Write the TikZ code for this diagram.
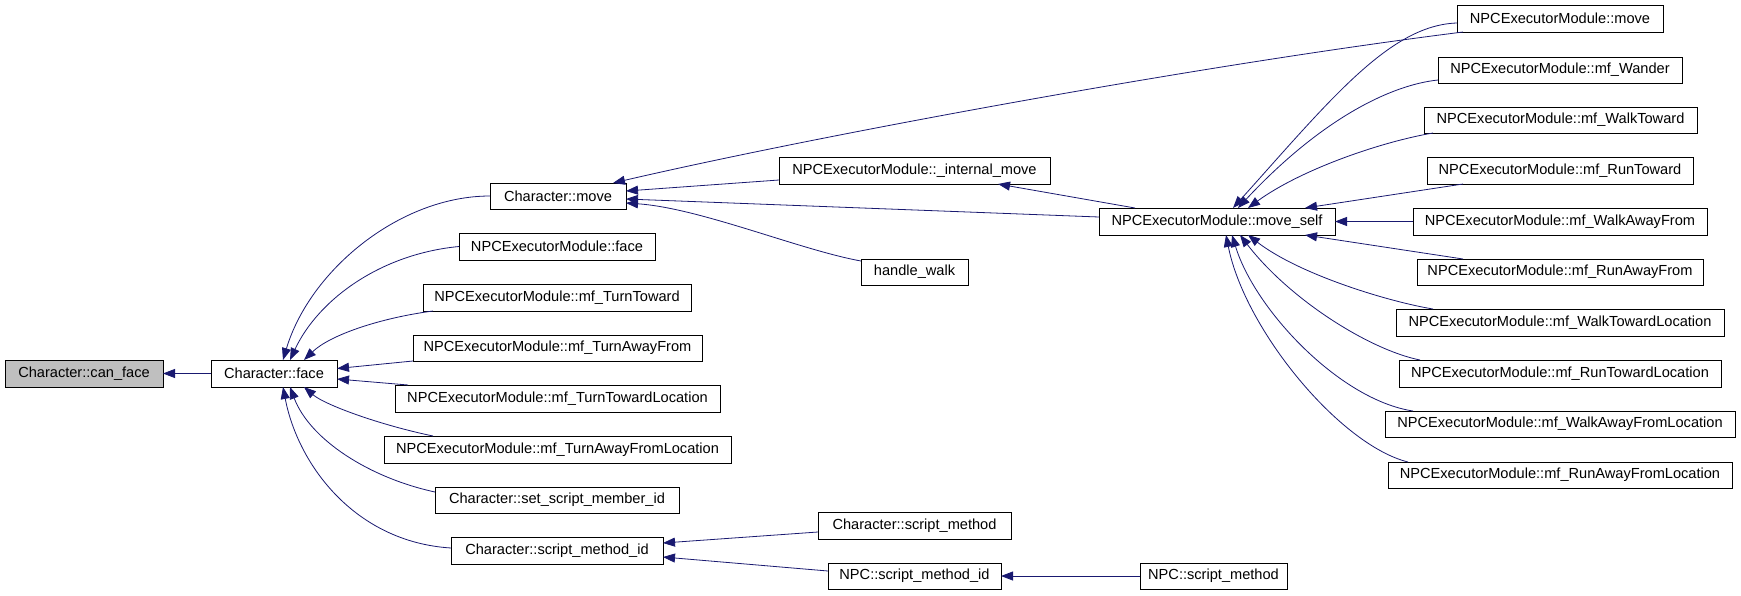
\documentclass[tikz,border=0pt]{standalone}
\usepackage{fontspec}
\setmainfont{Liberation Sans}
\usetikzlibrary{arrows.meta}
\definecolor{mb}{HTML}{191970}
\definecolor{gr}{HTML}{BFBFBF}
\newcommand\bx[7][]{\node[box,#1,minimum width={#5-#3},minimum height={#6-#4}] (#2) at ({(#3+#5)/2},{(#4+#6)/2}) {#7};}
\begin{document}
\begin{tikzpicture}[x=1pt,y=-1pt,
  box/.style={draw=black,line width=0.9pt,fill=white,inner sep=0pt,outer sep=0pt,font=\fontsize{14.6}{17}\selectfont},
  edge/.style={draw=mb,line width=0.8pt,-{Triangle[length=12pt,width=9pt]}}]
\useasboundingbox (0,0) rectangle (1741,595);
% nodes
\bx[fill=gr]{cf}{5}{360}{163}{387}{Character::can\_face}
\bx{face}{211}{360}{337}{387}{Character::face}
\bx{cmove}{490}{183}{626}{209}{Character::move}
\bx{nface}{459}{233}{655}{260}{NPCExecutorModule::face}
\bx{ttw}{423}{284}{691}{311}{NPCExecutorModule::mf\_TurnToward}
\bx{taf}{413}{335}{702}{361}{NPCExecutorModule::mf\_TurnAwayFrom}
\bx{ttl}{395}{385}{720}{412}{NPCExecutorModule::mf\_TurnTowardLocation}
\bx{tafl}{384}{436}{731}{463}{NPCExecutorModule::mf\_TurnAwayFromLocation}
\bx{ssm}{435}{487}{679}{513}{Character::set\_script\_member\_id}
\bx{smid}{451}{537}{663}{564}{Character::script\_method\_id}
\bx{imove}{779}{157}{1050}{184}{NPCExecutorModule::\_internal\_move}
\bx{hwalk}{861}{259}{968}{285}{handle\_walk}
\bx{mself}{1099}{208}{1335}{235}{NPCExecutorModule::move\_self}
\bx{nmove}{1457}{5}{1663}{32}{NPCExecutorModule::move}
\bx{wander}{1438}{57}{1682}{83}{NPCExecutorModule::mf\_Wander}
\bx{wtw}{1424}{107}{1697}{133}{NPCExecutorModule::mf\_WalkToward}
\bx{rtw}{1427}{157}{1693}{184}{NPCExecutorModule::mf\_RunToward}
\bx{waf}{1413}{208}{1707}{235}{NPCExecutorModule::mf\_WalkAwayFrom}
\bx{raf}{1417}{259}{1703}{285}{NPCExecutorModule::mf\_RunAwayFrom}
\bx{wtl}{1396}{309}{1724}{336}{NPCExecutorModule::mf\_WalkTowardLocation}
\bx{rtl}{1399}{360}{1721}{387}{NPCExecutorModule::mf\_RunTowardLocation}
\bx{wafl}{1385}{411}{1735}{437}{NPCExecutorModule::mf\_WalkAwayFromLocation}
\bx{rafl}{1388}{462}{1732}{488}{NPCExecutorModule::mf\_RunAwayFromLocation}
\bx{csm}{818}{512}{1011}{539}{Character::script\_method}
\bx{nsmid}{828}{563}{1001}{589}{NPC::script\_method\_id}
\bx{nsm}{1140}{563}{1287}{589}{NPC::script\_method}
% edges
\draw[edge] (face.west) -- (cf.east);
\draw[edge] (cmove.west) .. controls (400,196) and (310,270) .. ([xshift=9pt]face.north);
\draw[edge] (nface.west) .. controls (380,254) and (318,300) .. ([xshift=16pt]face.north);
\draw[edge] ([xshift=10pt]ttw.south west) .. controls (380,318) and (330,335) .. ([xshift=30pt]face.north);
\draw[edge] (taf.south west) -- ([yshift=5pt]face.east);
\draw[edge] ([xshift=13pt]ttl.north west) -- ([yshift=-5.5pt]face.east);
\draw[edge] ([xshift=49pt]tafl.north west) .. controls (380,425) and (325,405) .. ([xshift=30pt]face.south);
\draw[edge] ([yshift=8pt]ssm.west) .. controls (370,478) and (310,440) .. ([xshift=16pt]face.south);
\draw[edge] ([yshift=2.5pt]smid.west) .. controls (355,542) and (298,465) .. ([xshift=9pt]face.south);
\draw[edge] ([xshift=6pt]nmove.south west) .. controls (1200,65) and (820,135) .. ([xshift=-13pt]cmove.north east);
\draw[edge] ([yshift=-9.5pt]imove.west) -- ([yshift=5pt]cmove.east);
\draw[edge] ([yshift=4.5pt]mself.west) -- ([yshift=-3pt]cmove.east);
\draw[edge] ([yshift=-2pt]hwalk.north west) .. controls (800,250) and (700,208) .. ([yshift=-7pt]cmove.east);
\draw[edge] ([xshift=36pt]mself.north west) -- ([xshift=-52pt]imove.south east);
\draw[edge] ([yshift=-4.5pt]nmove.west) .. controls (1390,25) and (1330,100) .. ([xshift=16pt]mself.north);
\draw[edge] ([yshift=-10pt]wander.west) .. controls (1390,85) and (1320,120) .. ([xshift=21pt]mself.north);
\draw[edge] ([xshift=9pt]wtw.south west) .. controls (1380,142) and (1300,170) .. ([xshift=31pt]mself.north);
\draw[edge] ([xshift=36pt]rtw.south west) -- ([xshift=-30pt]mself.north east);
\draw[edge] (waf.west) -- (mself.east);
\draw[edge] ([xshift=46pt]raf.north west) -- ([xshift=-30pt]mself.south east);
\draw[edge] ([xshift=37pt]wtl.north west) .. controls (1390,302) and (1300,275) .. ([xshift=31pt]mself.south);
\draw[edge] ([xshift=21pt]rtl.north west) .. controls (1370,350) and (1290,300) .. ([xshift=23pt]mself.south);
\draw[edge] ([xshift=28pt]wafl.north west) .. controls (1340,400) and (1255,310) .. ([xshift=15pt]mself.south);
\draw[edge] ([xshift=20pt]rafl.north west) .. controls (1340,445) and (1245,330) .. ([xshift=9pt]mself.south);
\draw[edge] ([yshift=-6.5pt]csm.west) -- ([yshift=7.5pt]smid.east);
\draw[edge] ([yshift=5pt]nsmid.west) -- ([yshift=-6.5pt]smid.east);
\draw[edge] (nsm.west) -- (nsmid.east);
\end{tikzpicture}
\end{document}
